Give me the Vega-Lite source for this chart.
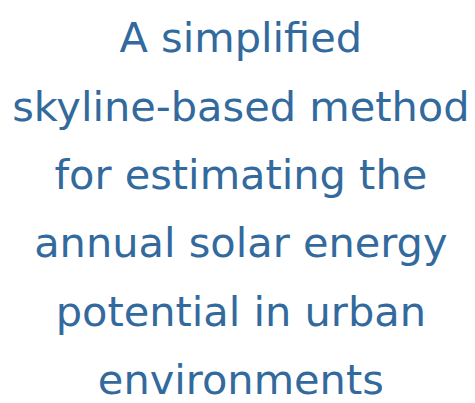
{
  "$schema": "https://vega.github.io/schema/vega-lite/v6.json",
  "width": 475,
  "height": 403,
  "autosize": {"type": "fit", "contains": "padding"},
  "padding": 0,
  "background": "white",
  "config": {"view": {"stroke": null}},
  "data": {"values": [
    {"line": 1, "text": "A simplified"},
    {"line": 2, "text": "skyline-based method"},
    {"line": 3, "text": "for estimating the"},
    {"line": 4, "text": "annual solar energy"},
    {"line": 5, "text": "potential in urban"},
    {"line": 6, "text": "environments"}
  ]},
  "mark": {"type": "text", "font": "DejaVu Sans", "fontSize": 41.5, "baseline": "alphabetic", "align": "center", "color": "#336a9e"},
  "encoding": {
    "x": {"datum": 0.507, "type": "quantitative", "scale": {"domain": [0, 1]}, "axis": null},
    "y": {"field": "line", "type": "quantitative", "scale": {"domain": [0.2319, 6.0725], "reverse": true, "nice": false, "zero": false}, "axis": null},
    "text": {"field": "text"}
  }
}
